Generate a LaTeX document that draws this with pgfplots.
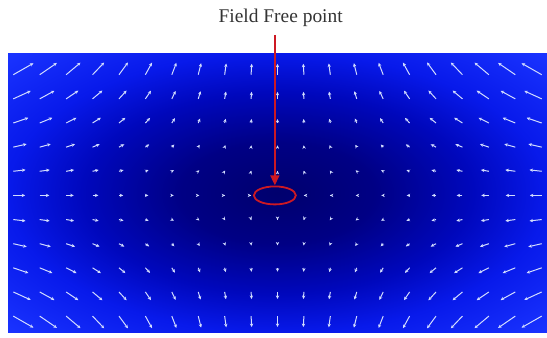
\documentclass[border=0pt]{standalone}
\usepackage{pgfplots}
\pgfplotsset{compat=1.18}
\usepackage{pgfplotstable}
\usepackage{fontspec}
\setmainfont{Liberation Serif}
\usetikzlibrary{arrows.meta}
\pgfdeclareradialshading{ffp}{\pgfpoint{0bp}{0bp}}{rgb(0bp)=(0,0,0.43);rgb(9bp)=(0,0,0.52);rgb(18bp)=(0,0.03,0.74);rgb(25bp)=(0.03,0.1,0.92);rgb(35bp)=(0.1,0.2,1);rgb(50bp)=(0.1,0.2,1)}
\definecolor{arr}{RGB}{210,220,255}
\definecolor{ffred}{RGB}{205,25,35}
\pgfplotstableread{
x y u v
-10 5 0.763 0.477
-9 5 0.651 0.489
-8 5 0.543 0.499
-7 5 0.440 0.506
-6 5 0.341 0.508
-5 5 0.252 0.503
-4 5 0.173 0.492
-3 5 0.109 0.478
-2 5 0.059 0.464
-1 5 0.024 0.454
0 5 0 0.450
1 5 -0.024 0.454
2 5 -0.059 0.464
3 5 -0.109 0.478
4 5 -0.173 0.492
5 5 -0.252 0.503
6 5 -0.341 0.508
7 5 -0.440 0.506
8 5 -0.543 0.499
9 5 -0.651 0.489
10 5 -0.763 0.477
-10 4 0.660 0.330
-9 4 0.559 0.336
-8 4 0.464 0.341
-7 4 0.374 0.345
-6 4 0.289 0.345
-5 4 0.212 0.340
-4 4 0.145 0.330
-3 4 0.090 0.316
-2 4 0.048 0.302
-1 4 0.019 0.292
0 4 0 0.288
1 4 -0.019 0.292
2 4 -0.048 0.302
3 4 -0.090 0.316
4 4 -0.145 0.330
5 4 -0.212 0.340
6 4 -0.289 0.345
7 4 -0.374 0.345
8 4 -0.464 0.341
9 4 -0.559 0.336
10 4 -0.660 0.330
-10 3 0.573 0.215
-9 3 0.480 0.216
-8 3 0.394 0.217
-7 3 0.315 0.218
-6 3 0.242 0.216
-5 3 0.176 0.211
-4 3 0.118 0.202
-3 3 0.072 0.189
-2 3 0.038 0.176
-1 3 0.014 0.166
0 3 0 0.162
1 3 -0.014 0.166
2 3 -0.038 0.176
3 3 -0.072 0.189
4 3 -0.118 0.202
5 3 -0.176 0.211
6 3 -0.242 0.216
7 3 -0.315 0.218
8 3 -0.394 0.217
9 3 -0.480 0.216
10 3 -0.573 0.215
-10 2 0.506 0.127
-9 2 0.418 0.126
-8 2 0.338 0.124
-7 2 0.266 0.122
-6 2 0.201 0.120
-5 2 0.144 0.115
-4 2 0.095 0.108
-3 2 0.056 0.098
-2 2 0.027 0.086
-1 2 0.010 0.076
0 2 0 0.072
1 2 -0.010 0.076
2 2 -0.027 0.086
3 2 -0.056 0.098
4 2 -0.095 0.108
5 2 -0.144 0.115
6 2 -0.201 0.120
7 2 -0.266 0.122
8 2 -0.338 0.124
9 2 -0.418 0.126
10 2 -0.506 0.127
-10 1 0.464 0.058
-9 1 0.378 0.057
-8 1 0.301 0.055
-7 1 0.232 0.054
-6 1 0.173 0.051
-5 1 0.121 0.049
-4 1 0.078 0.045
-3 1 0.044 0.039
-2 1 0.019 0.030
-1 1 0.006 0.022
0 1 0 0.018
1 1 -0.006 0.022
2 1 -0.019 0.030
3 1 -0.044 0.039
4 1 -0.078 0.045
5 1 -0.121 0.049
6 1 -0.173 0.051
7 1 -0.232 0.054
8 1 -0.301 0.055
9 1 -0.378 0.057
10 1 -0.464 0.058
-10 0 0.450 0
-9 0 0.365 0
-8 0 0.288 0
-7 0 0.221 0
-6 0 0.162 0
-5 0 0.113 0
-4 0 0.072 0
-3 0 0.041 0
-2 0 0.018 0
-1 0 0.005 0
1 0 -0.005 0
2 0 -0.018 0
3 0 -0.041 0
4 0 -0.072 0
5 0 -0.113 0
6 0 -0.162 0
7 0 -0.221 0
8 0 -0.288 0
9 0 -0.365 0
10 0 -0.450 0
-10 -1 0.464 -0.058
-9 -1 0.378 -0.057
-8 -1 0.301 -0.055
-7 -1 0.232 -0.054
-6 -1 0.173 -0.051
-5 -1 0.121 -0.049
-4 -1 0.078 -0.045
-3 -1 0.044 -0.039
-2 -1 0.019 -0.030
-1 -1 0.006 -0.022
0 -1 0 -0.018
1 -1 -0.006 -0.022
2 -1 -0.019 -0.030
3 -1 -0.044 -0.039
4 -1 -0.078 -0.045
5 -1 -0.121 -0.049
6 -1 -0.173 -0.051
7 -1 -0.232 -0.054
8 -1 -0.301 -0.055
9 -1 -0.378 -0.057
10 -1 -0.464 -0.058
-10 -2 0.506 -0.127
-9 -2 0.418 -0.126
-8 -2 0.338 -0.124
-7 -2 0.266 -0.122
-6 -2 0.201 -0.120
-5 -2 0.144 -0.115
-4 -2 0.095 -0.108
-3 -2 0.056 -0.098
-2 -2 0.027 -0.086
-1 -2 0.010 -0.076
0 -2 0 -0.072
1 -2 -0.010 -0.076
2 -2 -0.027 -0.086
3 -2 -0.056 -0.098
4 -2 -0.095 -0.108
5 -2 -0.144 -0.115
6 -2 -0.201 -0.120
7 -2 -0.266 -0.122
8 -2 -0.338 -0.124
9 -2 -0.418 -0.126
10 -2 -0.506 -0.127
-10 -3 0.573 -0.215
-9 -3 0.480 -0.216
-8 -3 0.394 -0.217
-7 -3 0.315 -0.218
-6 -3 0.242 -0.216
-5 -3 0.176 -0.211
-4 -3 0.118 -0.202
-3 -3 0.072 -0.189
-2 -3 0.038 -0.176
-1 -3 0.014 -0.166
0 -3 0 -0.162
1 -3 -0.014 -0.166
2 -3 -0.038 -0.176
3 -3 -0.072 -0.189
4 -3 -0.118 -0.202
5 -3 -0.176 -0.211
6 -3 -0.242 -0.216
7 -3 -0.315 -0.218
8 -3 -0.394 -0.217
9 -3 -0.480 -0.216
10 -3 -0.573 -0.215
-10 -4 0.660 -0.330
-9 -4 0.559 -0.336
-8 -4 0.464 -0.341
-7 -4 0.374 -0.345
-6 -4 0.289 -0.345
-5 -4 0.212 -0.340
-4 -4 0.145 -0.330
-3 -4 0.090 -0.316
-2 -4 0.048 -0.302
-1 -4 0.019 -0.292
0 -4 0 -0.288
1 -4 -0.019 -0.292
2 -4 -0.048 -0.302
3 -4 -0.090 -0.316
4 -4 -0.145 -0.330
5 -4 -0.212 -0.340
6 -4 -0.289 -0.345
7 -4 -0.374 -0.345
8 -4 -0.464 -0.341
9 -4 -0.559 -0.336
10 -4 -0.660 -0.330
-10 -5 0.763 -0.477
-9 -5 0.651 -0.489
-8 -5 0.543 -0.499
-7 -5 0.440 -0.506
-6 -5 0.341 -0.508
-5 -5 0.252 -0.503
-4 -5 0.173 -0.492
-3 -5 0.109 -0.478
-2 -5 0.059 -0.464
-1 -5 0.024 -0.454
0 -5 0 -0.450
1 -5 -0.024 -0.454
2 -5 -0.059 -0.464
3 -5 -0.109 -0.478
4 -5 -0.173 -0.492
5 -5 -0.252 -0.503
6 -5 -0.341 -0.508
7 -5 -0.440 -0.506
8 -5 -0.543 -0.499
9 -5 -0.651 -0.489
10 -5 -0.763 -0.477
}\field
\begin{document}
\begin{tikzpicture}
\begin{axis}[at={(8bp,5bp)}, anchor=south west, scale only axis,
  width=539bp, height=280bp,
  xmin=-10.2, xmax=10.2, ymin=-5.7, ymax=5.9,
  xtick=\empty, ytick=\empty, axis line style={draw=none},
  clip=false, axis background/.style={shading=ffp}]
\addplot[arr, line width=1bp, -{Stealth[length=3.5bp,width=3.3bp]},
  quiver={u=\thisrow{u}, v=\thisrow{v}}, no markers] table[x=x,y=y] {\field};
\draw[ffred, line width=1.8bp] (axis cs:-0.1,0) ellipse [x radius=21bp, y radius=9bp];
\draw[ffred, line width=2bp, -{Triangle[length=10bp,width=9bp]}] (axis cs:-0.1,6.65) -- (axis cs:-0.1,0.42);
\node[text=black!80, font=\fontsize{19.5}{22}\selectfont] at (axis cs:0.12,7.35) {Field Free point};
\end{axis}
\pgfresetboundingbox
\path[use as bounding box] (0,0) rectangle (547bp,338bp);
\end{tikzpicture}
\end{document}
